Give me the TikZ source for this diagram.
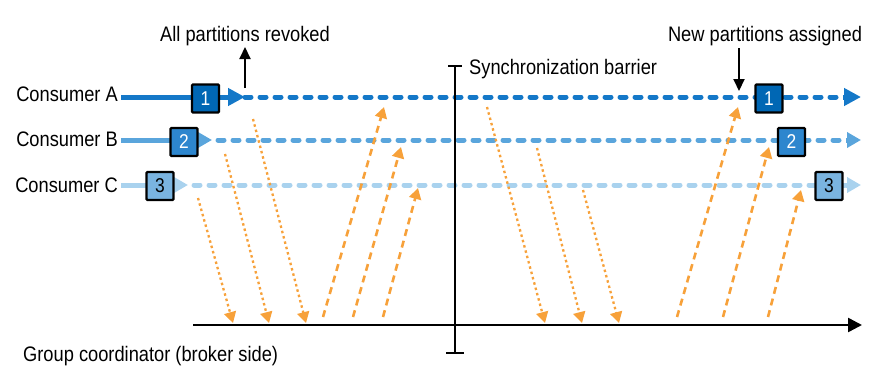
\documentclass[tikz,border=0pt]{standalone}
\usepackage{fontspec}
\setmainfont{Liberation Sans}[FakeStretch=0.87]
\usetikzlibrary{arrows.meta}
\definecolor{cA}{HTML}{1478C8}
\definecolor{cB}{HTML}{5AA5DC}
\definecolor{cC}{HTML}{A9D2EE}
\definecolor{fA}{HTML}{0067B4}
\definecolor{fB}{HTML}{2D86CE}
\definecolor{fC}{HTML}{7AB4E0}
\definecolor{orng}{HTML}{F7A13A}
\tikzset{
  lbl/.style={inner sep=0pt, font=\fontsize{21}{22}\selectfont},
  pbox/.style={draw=black, line width=2.2pt, rounded corners=1pt, minimum width=27pt, minimum height=28pt, inner sep=0pt, font=\fontsize{20}{21}\selectfont},
  cline/.style={line width=5pt},
  dline/.style={line width=5pt, dash pattern=on 6pt off 9pt, line cap=round},
  tipA/.style={-{Triangle[length=17pt,width=17pt]}},
  tipB/.style={-{Triangle[length=14pt,width=15pt]}},
  req/.style={orng, line width=2.3pt, dash pattern=on 2.5pt off 3pt, -{Triangle[length=11pt,width=12pt]}},
  resp/.style={orng, line width=2.6pt, dash pattern=on 7pt off 5pt, -{Triangle[length=11pt,width=12pt]}},
  blk/.style={black, line width=2pt, -{Triangle[length=12pt,width=11pt]}}
}
\begin{document}
\begin{tikzpicture}[x=1pt, y=-1pt]
\useasboundingbox (0,0) rectangle (895,375);
% labels
\node[lbl, anchor=base east] (la) at (118,101.5) {Consumer A};
\node[lbl, anchor=base east] (lb) at (118,146.5) {Consumer B};
\node[lbl, anchor=base east] (lc) at (118,192.5) {Consumer C};
\node[lbl, anchor=base] (rev) at (245,41.5) {All partitions revoked};
\node[lbl, anchor=base] (asg) at (765,41.5) {New partitions assigned};
\node[lbl, anchor=base west] (sync) at (469,74) {Synchronization barrier};
\node[lbl, anchor=base west] (gc) at (23,361.5) {Group coordinator (broker side)};
% line coordinates
\coordinate (a0) at (121,97);
\coordinate (a1) at (245,97);
\coordinate (a2) at (861,97);
\coordinate (b0) at (121,140);
\coordinate (b1) at (212,140);
\coordinate (b1d) at (218,140);
\coordinate (b2) at (861,140);
\coordinate (c0) at (121,185);
\coordinate (c1) at (188,185);
\coordinate (c1d) at (194,185);
\coordinate (c2) at (861,185);
% consumer lines
\draw[cA, cline, tipA] (a0) -- (a1);
\draw[cA, dline] (a1) -- ([xshift=-17pt]a2);
\draw[cA, line width=5pt, tipA] ([xshift=-18pt]a2) -- (a2);
\draw[cB, cline, tipB] (b0) -- (b1);
\draw[cB, dline] (b1d) -- ([xshift=-14pt]b2);
\draw[cB, line width=5pt, tipB] ([xshift=-15pt]b2) -- (b2);
\draw[cC, cline, tipB] (c0) -- (c1);
\draw[cC, dline] (c1d) -- ([xshift=-14pt]c2);
\draw[cC, line width=5pt, tipB] ([xshift=-15pt]c2) -- (c2);
% boxes
\node[pbox, fill=fA, text=white] (a1L) at (205.5,98.5) {1};
\node[pbox, fill=fB, text=white] (b1L) at (184,142) {2};
\node[pbox, fill=fC, text=black] (c1L) at (160,186) {3};
\node[pbox, fill=fA, text=white] (a1R) at (769,98.5) {1};
\node[pbox, fill=fB, text=white] (b1R) at (791.5,142) {2};
\node[pbox, fill=fC, text=black] (c1R) at (829,186) {3};
% barrier
\coordinate (bt) at (455,66);
\coordinate (bb) at (455,353);
\draw[black, line width=2.5pt] (bt) -- (bb);
\draw[black, line width=2.5pt] ([xshift=-7pt]bt) -- ([xshift=7pt]bt);
\draw[black, line width=2.5pt] ([xshift=-9pt]bb) -- ([xshift=9pt]bb);
% axis
\coordinate (ax0) at (193,325);
\coordinate (ax1) at (862,325);
\draw[black, line width=2.5pt, -{Triangle[length=14pt,width=14pt]}] (ax0) -- (ax1);
% annotation arrows
\coordinate (revs) at (245,88);
\coordinate (reve) at (245,47);
\draw[blk] (revs) -- (reve);
\coordinate (asgs) at (739,48);
\coordinate (asge) at (739,91);
\draw[blk] (asgs) -- (asge);
% requests (dotted, down)
\coordinate (q1s) at (198,198); \coordinate (q1e) at (233,323);
\coordinate (q2s) at (225,154); \coordinate (q2e) at (269,323);
\coordinate (q3s) at (253,119); \coordinate (q3e) at (306,323);
\coordinate (q4s) at (487,107); \coordinate (q4e) at (545,323);
\coordinate (q5s) at (537,148); \coordinate (q5e) at (582,323);
\coordinate (q6s) at (583,190); \coordinate (q6e) at (619,323);
\foreach \i in {1,...,6} {\draw[req] (q\i s) -- (q\i e);}
% responses (dashed, up)
\coordinate (r1s) at (323,317); \coordinate (r1e) at (384,107);
\coordinate (r2s) at (353,317); \coordinate (r2e) at (401,147);
\coordinate (r3s) at (383,317); \coordinate (r3e) at (418,188);
\coordinate (r4s) at (677,317); \coordinate (r4e) at (738,107);
\coordinate (r5s) at (723,317); \coordinate (r5e) at (769,147);
\coordinate (r6s) at (768,317); \coordinate (r6e) at (801,190);
\foreach \i in {1,...,6} {\draw[resp] (r\i s) -- (r\i e);}
\end{tikzpicture}
\end{document}
